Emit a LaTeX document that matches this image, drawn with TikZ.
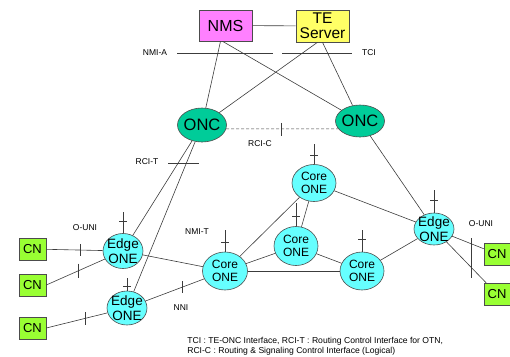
\documentclass[tikz,border=0pt]{standalone}
\usepackage{fontspec}
\setmainfont{Liberation Sans}
\usepackage{tikz}
\usetikzlibrary{shapes.geometric}
\definecolor{nmspink}{RGB}{255,128,255}
\definecolor{teyellow}{RGB}{255,255,102}
\definecolor{oncgreen}{RGB}{0,204,153}
\definecolor{onecyan}{RGB}{102,255,255}
\definecolor{cngreen}{RGB}{153,255,51}
\definecolor{wire}{RGB}{60,60,60}

\begin{document}
\begin{tikzpicture}[x=1pt,y=-1pt,
    line width=0.6pt,
    box/.style={draw=black!70, inner sep=0pt, align=center},
    onc/.style={ellipse, draw=black!70, fill=oncgreen, inner xsep=-1.5pt, inner ysep=0pt,
      minimum width=49pt, minimum height=34pt, font=\fontsize{16.5}{16.5}\selectfont},
    one/.style={ellipse, draw=black!70, fill=onecyan, inner sep=-2pt, align=center},
    cn/.style={box, fill=cngreen, minimum width=27pt, minimum height=22pt,
      font=\fontsize{13}{13}\selectfont},
    lbl/.style={font=\fontsize{8.5}{8.5}\selectfont, inner sep=0pt}]
  \useasboundingbox (0,0) rectangle (510,356);

  % Management and TE servers
  \node[box, fill=nmspink, minimum width=53pt, minimum height=31pt,
    font=\fontsize{16}{16}\selectfont] (nms) at (225.5,25.5) {NMS};
  \node[box, fill=teyellow, minimum width=53pt, minimum height=32pt,
    font=\fontsize{15.5}{15}\selectfont] (te) at (322.5,26) {TE\\Server};

  % Optical network controllers
  \node[onc] (oncl) at (202,125) {ONC};
  \node[onc, minimum height=32pt] (oncr) at (360,121) {ONC};

  % Core ONEs
  \node[one, minimum width=44pt, minimum height=37pt, font=\fontsize{12}{13}\selectfont] (ct) at (314,183) {Core\\ONE};
  \node[one, minimum width=44pt, minimum height=39pt, font=\fontsize{12}{13}\selectfont] (cm) at (296,246) {Core\\ONE};
  \node[one, minimum width=45pt, minimum height=38pt, font=\fontsize{12}{13}\selectfont] (cl) at (225,271) {Core\\ONE};
  \node[one, minimum width=44pt, minimum height=38pt, font=\fontsize{12}{13}\selectfont] (cr) at (362,271) {Core\\ONE};

  % Edge ONEs
  \node[one, minimum width=40pt, minimum height=35pt, font=\fontsize{13.5}{15}\selectfont] (et) at (123,251) {Edge\\ONE};
  \node[one, minimum width=40pt, minimum height=34pt, font=\fontsize{13.5}{15}\selectfont] (eb) at (127,308) {Edge\\ONE};
  \node[one, minimum width=40pt, minimum height=32pt, font=\fontsize{13.5}{15}\selectfont] (er) at (434,229) {Edge\\ONE};

  % Client nodes
  \node[cn] (cn1) at (32.5,249) {CN};
  \node[cn] (cn2) at (32.5,285) {CN};
  \node[cn] (cn3) at (32.5,328) {CN};
  \node[cn, minimum width=26pt] (cn4) at (497,254) {CN};
  \node[cn, minimum width=26pt] (cn5) at (497,294) {CN};

  % Control plane links
  \draw[wire] (nms) -- (te);
  \draw[wire] (nms.south) ++(-5,0) -- (oncl);
  \draw[wire] (nms.south) ++(-3,0) -- (oncr);
  \draw[wire] (te.south) ++(-5,0) -- (oncl);
  \draw[wire] (te.south) -- (oncr);
  \draw[wire, dashed, dash pattern=on 3pt off 2pt]
    (oncl.-9) -- coordinate[pos=0.49] (rcic) (oncr.200);
  \draw[wire] (rcic) ++(0,-6) -- ++(0,13);
  \draw[wire] (oncl) -- (et);
  \draw[wire] (oncl) -- (eb);
  \draw[wire] (oncr) -- (er);

  % Interface reference lines
  \coordinate (nmia1) at (177,53);
  \coordinate (nmia2) at (273,53);
  \coordinate (tci1) at (282,53);
  \coordinate (tci2) at (352,53);
  \draw[wire] (nmia1) -- (nmia2);
  \draw[wire] (tci1) -- (tci2);
  \coordinate (rcit1) at (168,163);
  \coordinate (rcit2) at (199,163);
  \draw[wire] (rcit1) -- (rcit2);
  \coordinate (ouni1) at (471,238);
  \coordinate (ouni2) at (471,278);
  \draw[wire] (ouni1) -- (ouni2);

  % Data plane links
  \draw[wire] (ct) -- (cl);
  \draw[wire] (ct) -- (cm);
  \draw[wire] (ct) -- (er);
  \draw[wire] (cm) -- (cl);
  \draw[wire] (cm) -- (cr);
  \draw[wire] (cl) -- (cr);
  \draw[wire] (cr) -- (er);
  \draw[wire] (et) -- (cl);
  \draw[wire] (eb) -- coordinate[pos=0.62] (nni) (cl);
  \draw[wire] (nni) ++(0,-6) -- ++(0,12);
  \draw[wire] (er) -- (cn4);
  \draw[wire] (er) -- (cn5);

  % Client links with ticks
  \draw[wire] (cn1) -- coordinate[pos=0.61] (u1) (et);
  \draw[wire] (u1) ++(0,-6) -- ++(0,12);
  \draw[wire] (cn2.east) -- coordinate[pos=0.55] (u2) (et);
  \draw[wire] (u2) ++(0,-7) -- ++(0,14);
  \draw[wire] (cn3.east) -- coordinate[pos=0.63] (u3) (eb);
  \draw[wire] (u3) ++(0,-6) -- ++(0,13);

  % Management stubs on the ONEs
  \draw[wire] (ct.north) -- ++(0,-20) (ct.north) ++(-4,-9) -- ++(8,0);
  \draw[wire] (cm.north) -- ++(0,-23) (cm.north) ++(-4,-10) -- ++(8,0);
  \draw[wire] (cl.north) -- ++(0,-22) (cl.north) ++(-4,-9) -- ++(8,0);
  \draw[wire] (cr.north) -- ++(0,-22) (cr.north) ++(-4,-12) -- ++(8,0);
  \draw[wire] (er.north) -- ++(0,-23) (er.north) ++(-4,-12) -- ++(8,0);
  \draw[wire] (et.north) -- ++(0,-21) (et.north) ++(-4,-12) -- ++(8,0);
  \draw[wire] (eb.north) -- ++(0,-13) (eb.north) ++(-4,-4) -- ++(8,0);

  % Labels
  \node[lbl] (lnmia) at (155,53) {NMI-A};
  \node[lbl] (ltci) at (369,53) {TCI};
  \node[lbl] (lrcic) at (260,144) {RCI-C};
  \node[lbl] (lrcit) at (147,162) {RCI-T};
  \node[lbl] (lnmit) at (197,232) {NMI-T};
  \node[lbl] (louni1) at (85,228) {O-UNI};
  \node[lbl] (louni2) at (481,224) {O-UNI};
  \node[lbl] (lnni) at (181,308) {NNI};
  \node[lbl, anchor=north west, align=left, font=\fontsize{8.6}{10}\selectfont] (note) at (187,337)
    {TCI : TE-ONC Interface, RCI-T : Routing Control Interface for OTN,\\
     RCI-C : Routing \& Signaling Control Interface (Logical)};
\end{tikzpicture}
\end{document}
